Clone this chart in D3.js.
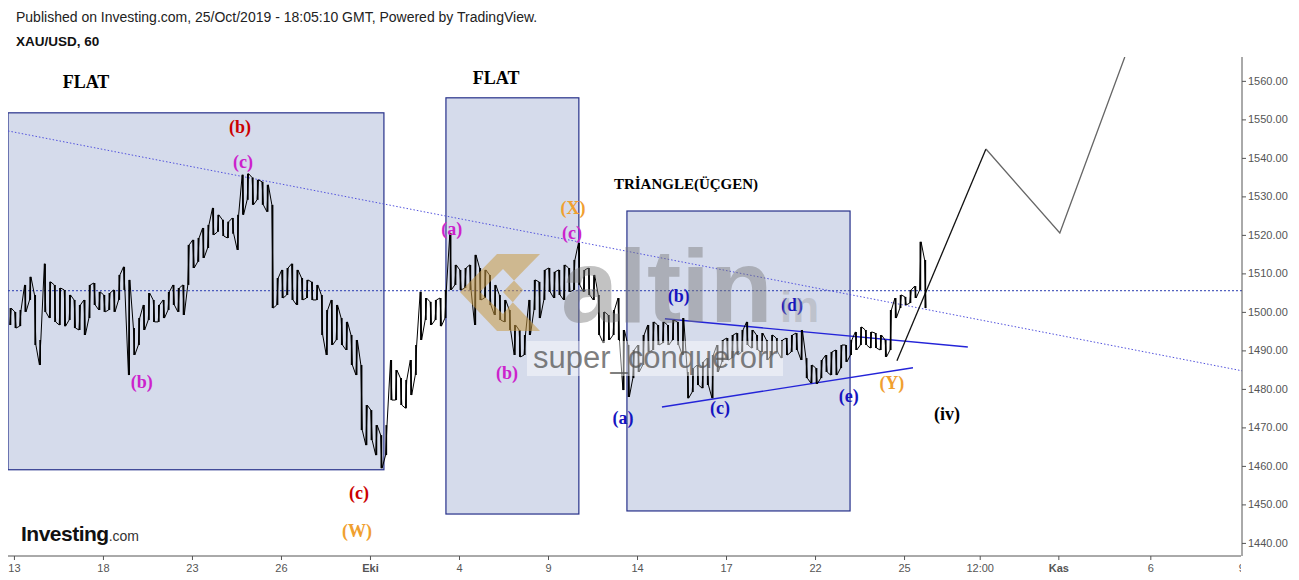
<!DOCTYPE html>
<html><head><meta charset="utf-8">
<script src="https://cdn.jsdelivr.net/npm/d3@7"></script>
<style>body{margin:0;background:#fff}svg{display:block}</style>
</head><body>
<svg id="chart" width="1299" height="580"></svg>
<script>
// ---- data (4-hour bars) ----
const barStartDay = -0.2;   // trading-day units, 0 = 13 Sep
const barsPerDay = 6;
const highs = [1501.0,1500.0,1500.5,1507.0,1509.1,1504.4,1492.7,1512.5,1507.8,1507.0,
1506.2,1505.7,1504.4,1503.1,1501.8,1503.1,1507.0,1507.5,1505.2,1504.4,
1504.9,1505.7,1509.6,1511.7,1508.3,1495.8,1498.4,1501.8,1504.9,1503.1,
1501.8,1503.1,1505.2,1507.0,1506.2,1507.0,1517.4,1518.7,1519.2,1521.8,
1522.6,1527.0,1525.2,1523.9,1523.4,1524.4,1525.2,1535.6,1535.9,1534.9,
1534.3,1533.8,1533.0,1527.8,1508.8,1510.9,1511.4,1512.5,1510.9,1508.8,
1508.3,1507.8,1507.0,1504.4,1500.5,1503.1,1501.8,1498.4,1497.4,1494.0,
1492.7,1486.2,1475.8,1474.5,1470.6,1468.0,1470.6,1487.5,1484.9,1482.8,
1482.3,1487.5,1491.4,1505.2,1503.6,1502.6,1503.1,1503.6,1505.7,1520.5,
1512.2,1510.9,1511.4,1512.2,1514.8,1511.4,1510.9,1509.6,1507.0,1504.4,
1503.1,1500.5,1496.6,1495.3,1494.0,1503.1,1508.3,1507.8,1510.9,1511.4,
1510.4,1510.9,1512.2,1511.4,1513.5,1517.9,1510.9,1511.4,1509.6,1504.4,
1500.0,1499.2,1500.5,1503.6,1495.3,1491.4,1490.1,1491.4,1494.0,1496.6,
1497.4,1496.6,1497.4,1496.6,1497.9,1497.4,1498.4,1484.4,1485.4,1486.2,
1487.0,1488.0,1488.8,1491.4,1492.7,1493.2,1494.0,1494.5,1495.3,1497.4,
1495.3,1494.0,1494.5,1492.7,1494.0,1493.2,1492.7,1493.2,1494.0,1494.5,
1495.3,1488.0,1486.2,1485.4,1487.5,1488.8,1489.6,1490.1,1491.4,1491.4,
1492.7,1494.8,1496.1,1495.3,1494.8,1494.5,1494.0,1492.7,1500.5,1503.6,
1504.4,1503.9,1505.7,1506.7,1518.2,1513.5];
const lows = [1496.6,1495.8,1496.3,1500.0,1503.1,1491.4,1486.2,1500.0,1498.4,1497.4,
1496.6,1496.3,1497.9,1495.8,1495.3,1494.0,1498.4,1501.8,1500.5,1500.0,
1500.5,1500.0,1503.1,1505.7,1483.6,1488.8,1491.4,1495.3,1497.9,1497.4,
1497.4,1498.4,1500.5,1501.8,1500.0,1499.2,1507.0,1511.4,1513.0,1514.0,
1516.6,1520.0,1520.8,1519.7,1519.2,1520.3,1516.1,1525.2,1529.1,1527.8,
1529.1,1527.8,1526.0,1501.0,1501.8,1503.6,1504.4,1503.1,1501.8,1503.1,
1503.6,1503.1,1503.1,1494.0,1488.8,1491.4,1492.7,1491.4,1490.1,1486.2,
1483.6,1469.3,1465.4,1466.7,1462.8,1459.4,1462.8,1477.1,1477.1,1475.8,
1475.0,1478.4,1483.6,1492.7,1497.9,1496.6,1497.9,1496.3,1498.4,1505.7,
1507.0,1505.7,1506.2,1505.7,1496.6,1503.1,1503.6,1501.8,1499.2,1497.9,
1497.4,1495.3,1488.8,1488.3,1488.8,1494.0,1500.5,1498.4,1503.1,1505.2,
1503.6,1504.4,1503.1,1505.2,1505.7,1507.0,1505.2,1504.4,1503.1,1494.0,
1491.9,1492.7,1494.0,1492.7,1479.7,1477.9,1482.8,1484.4,1486.2,1489.6,
1490.1,1491.4,1491.9,1491.4,1492.7,1491.4,1488.8,1477.6,1479.2,1481.0,
1480.2,1481.0,1477.6,1484.4,1487.0,1487.5,1488.0,1488.8,1489.6,1491.4,
1490.6,1490.1,1489.6,1487.5,1488.8,1489.6,1488.0,1488.8,1489.6,1490.1,
1487.5,1482.8,1481.5,1481.3,1482.8,1484.4,1483.6,1483.6,1485.4,1487.0,
1488.8,1490.1,1491.4,1491.4,1490.6,1490.6,1490.1,1488.3,1490.1,1498.4,
1501.0,1501.8,1502.3,1503.6,1505.7,1501.0];

const xTickDays   = [0,3,6,9,12,15,18,21,24,27,30,32.55,35.2,38.3,41.37];
const xTickLabels = ["13","18","23","26","Eki","4","9","14","17","22","25","12:00","Kas","6","9"];
const boldTickLabels = ["Eki","Kas"];
const yTicks = [1440,1450,1460,1470,1480,1490,1500,1510,1520,1530,1540,1550,1560];
const lastPrice = 1505.5;

// boxes: [day0, day1, priceLow, priceHigh]
const boxes = [[-0.2,12.47,1459.0,1551.7],[14.56,19.04,1447.5,1555.6],[20.66,28.18,1448.3,1526.2]];
const trendLine = [[-0.2,1547.0],[41.39,1484.7]];
const triUpper = [[21.94,1498.2],[32.15,1490.9]];
const triLower = [[21.84,1475.3],[30.3,1485.5]];
const projBlack = [[29.76,1487.3],[32.76,1542.3]];
const projGrey  = [[32.76,1542.3],[35.25,1520.5],[37.44,1566.2]];

// labels: [text, day, price, color, size]
const labels = [
 ["FLAT",2.43,1559.7,"#000",18],["FLAT",16.25,1560.8,"#000",18],
 ["(b)",7.62,1548.1,"#cc0000",18],["(c)",7.72,1539.0,"#cc22cc",18],
 ["(b)",4.31,1481.8,"#cc22cc",18],["(c)",11.63,1453.0,"#cc0000",18],
 ["(W)",11.56,1443.1,"#f0a030",18],["(a)",14.76,1521.6,"#cc22cc",18],
 ["(X)",18.84,1527.0,"#f0a030",18],["(c)",18.81,1520.5,"#cc22cc",18],
 ["(b)",16.62,1484.2,"#cc22cc",18],["TRİANGLE(ÜÇGEN)",22.65,1533.2,"#000",15],
 ["(b)",22.41,1504.2,"#1515c0",18],["(d)",26.22,1501.8,"#1515c0",18],
 ["(a)",20.53,1472.5,"#1515c0",18],["(c)",23.8,1475.1,"#1515c0",18],
 ["(e)",28.14,1478.2,"#1515c0",18],["(Y)",29.59,1481.6,"#f0a030",18],
 ["(iv)",31.45,1473.5,"#000",18]
];

// ---- layout ----
const L = 8, R = 1242, T = 57, B = 556;
const svg = d3.select("#chart");
const x = d3.scaleLinear().domain([-0.2, 41.39]).range([L, R]);
const y = d3.scaleLinear().domain([1436.6, 1566.2]).range([B, T]);

const defs = svg.append("defs");
defs.append("clipPath").attr("id","plot")
  .append("rect").attr("x",L).attr("y",T).attr("width",R-L).attr("height",B-T);
defs.append("clipPath").attr("id","xlab")
  .append("rect").attr("x",0).attr("y",-2).attr("width",R-1).attr("height",30);

// header
svg.append("text").attr("x",16).attr("y",22).attr("font-family","Liberation Sans, Arial, sans-serif")
  .attr("font-size",14).attr("fill","#222")
  .text("Published on Investing.com, 25/Oct/2019 - 18:05:10 GMT, Powered by TradingView.");
svg.append("text").attr("x",16).attr("y",46).attr("font-family","Liberation Sans, Arial, sans-serif")
  .attr("font-size",13.5).attr("font-weight","bold").attr("fill","#111").text("XAU/USD, 60");

const g = svg.append("g").attr("clip-path","url(#plot)");

// boxes
g.selectAll("rect.box").data(boxes).join("rect").attr("class","box")
  .attr("x",d=>x(d[0])).attr("y",d=>y(d[3]))
  .attr("width",d=>x(d[1])-x(d[0])).attr("height",d=>y(d[2])-y(d[3]))
  .attr("fill","#d5dbeb").attr("stroke","#26308a").attr("stroke-width",1.2);

// last price dashed line
g.append("line").attr("x1",L).attr("x2",R).attr("y1",y(lastPrice)).attr("y2",y(lastPrice))
  .attr("stroke","#2a3cb0").attr("stroke-width",1).attr("stroke-dasharray","2,2");

const line = d3.line().x(d=>x(d[0])).y(d=>y(d[1]));
g.append("path").attr("d",line(trendLine)).attr("fill","none")
  .attr("stroke","#5252dd").attr("stroke-width",1).attr("stroke-dasharray","1.5,2");
g.append("path").attr("d",line(triUpper)).attr("fill","none").attr("stroke","#2424d8").attr("stroke-width",1.4);
g.append("path").attr("d",line(triLower)).attr("fill","none").attr("stroke","#2424d8").attr("stroke-width",1.4);
g.append("path").attr("d",line(projBlack)).attr("fill","none").attr("stroke","#111").attr("stroke-width",1.3);
g.append("path").attr("d",line(projGrey)).attr("fill","none").attr("stroke","#666").attr("stroke-width",1.3);

// price bars
const bars = highs.map((h,i)=>({day: barStartDay + (i+0.5)/barsPerDay, h, l: lows[i], i}));
g.selectAll("line.bar").data(bars).join("line").attr("class","bar")
  .attr("x1",d=>x(d.day)).attr("x2",d=>x(d.day)).attr("y1",d=>y(d.h)).attr("y2",d=>y(d.l))
  .attr("stroke","#000").attr("stroke-width",1.7);
const zig = [];
bars.forEach(d=>{
  const dx = 0.7;
  if (d.i % 2 === 0) { zig.push([x(d.day)-dx, y(d.l)]); zig.push([x(d.day)+dx, y(d.h)]); }
  else { zig.push([x(d.day)-dx, y(d.h)]); zig.push([x(d.day)+dx, y(d.l)]); }
});
g.append("path").attr("d", d3.line()(zig)).attr("fill","none").attr("stroke","#000").attr("stroke-width",1);

// labels
g.selectAll("text.lbl").data(labels).join("text").attr("class","lbl")
  .attr("x",d=>x(d[1])).attr("y",d=>y(d[2])).attr("text-anchor","middle")
  .attr("dominant-baseline","central")
  .attr("font-family","Liberation Serif, Times New Roman, serif").attr("font-weight","bold")
  .attr("font-size",d=>d[4]).attr("fill",d=>d[3]).text(d=>d[0]);

// axes
const yAxis = d3.axisRight(y).tickValues(yTicks).tickSize(4).tickPadding(2).tickFormat(d3.format(".2f"));
const ya = svg.append("g").attr("transform",`translate(${R},0)`).call(yAxis);
ya.select(".domain").attr("stroke","#555").attr("d",`M0,${T}V${B}`);
ya.selectAll(".tick line").attr("stroke","#555");
ya.selectAll(".tick text").attr("font-family","Liberation Sans, Arial, sans-serif").attr("font-size",11).attr("fill","#555");

const xAxis = d3.axisBottom(x).tickValues(xTickDays).tickSize(4).tickPadding(4)
  .tickFormat((d,i)=>xTickLabels[i]);
const xa = svg.append("g").attr("transform",`translate(0,${B})`).call(xAxis);
xa.attr("clip-path","url(#xlab)");
xa.select(".domain").attr("stroke","#555").attr("d",`M${L},0H${R}`);
xa.selectAll(".tick line").attr("stroke","#555");
xa.selectAll(".tick text").attr("font-family","Liberation Sans, Arial, sans-serif").attr("font-size",11)
  .attr("fill","#555")
  .attr("font-weight",(d,i)=>boldTickLabels.includes(xTickLabels[i])?"bold":"normal");

// Investing.com logo
const logo = svg.append("text").attr("x",21).attr("y",541).attr("font-family","Liberation Sans, Arial, sans-serif");
logo.append("tspan").attr("font-size",21).attr("font-weight","bold").attr("fill","#111")
  .attr("letter-spacing","-0.5").text("Investing");
logo.append("tspan").attr("font-size",14).attr("fill","#333").text(".com");

// watermark (on top, translucent)
const wm = svg.append("g");
wm.append("path").attr("d","M460,292 L497,254 L540,254 L503,292 L540,331 L497,331 Z M480,292 L503,269 L523,290 L503,314 Z")
  .attr("fill","#c99a45").attr("fill-opacity",0.55).attr("fill-rule","evenodd");
wm.append("text").attr("x",561).attr("y",322).attr("font-family","Liberation Sans, Arial, sans-serif")
  .attr("font-weight","bold").attr("font-size",103).attr("fill","#777").attr("fill-opacity",0.45).text("altin");
wm.append("text").attr("x",780).attr("y",322).attr("font-family","Liberation Sans, Arial, sans-serif")
  .attr("font-weight","bold").attr("font-size",44).attr("fill","#999").attr("fill-opacity",0.4).text("in");
wm.append("rect").attr("x",527).attr("y",341).attr("width",256).attr("height",35)
  .attr("fill","#fff").attr("fill-opacity",0.45);
wm.append("text").attr("x",533).attr("y",368).attr("font-family","Liberation Sans, Arial, sans-serif")
  .attr("font-size",31).attr("fill","#555").attr("fill-opacity",0.75).text("super_conquerorr");
</script>
</body></html>
